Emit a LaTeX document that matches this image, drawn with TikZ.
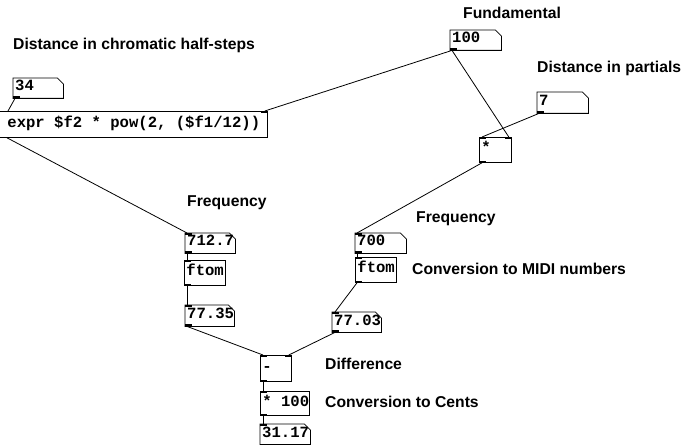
\documentclass[tikz,border=0pt]{standalone}
\usepackage{fontspec}
\setmainfont{Liberation Sans}
\newfontfamily\pdmono{Liberation Mono}
\tikzset{
  boxline/.style={draw=black, line width=0.8pt},
  wire/.style={draw=black, line width=0.8pt},
  pdtext/.style={inner xsep=2pt, inner ysep=0pt, text height=0.68em, text depth=0.12em,
    font=\pdmono\bfseries\fontsize{15.6}{17}\selectfont, anchor=north west,
    execute at begin node={\spaceskip=0.6em\relax}},
  lbl/.style={anchor=west, inner sep=0pt, font=\bfseries\fontsize{15.7}{18}\selectfont}
}
\newcommand\pdnum[6]{%
  \pgfmathsetmacro\pdtw{#4-4}%
  \node[pdtext, minimum height=#5pt] (#1) at (#2,#3) {\makebox[\pdtw pt][l]{#6}};
  \draw[boxline] (#1.north west) -- ([xshift=-6pt]#1.north east) -- ([yshift=-6pt]#1.north east)
     -- (#1.south east) -- (#1.south west) -- cycle;
}
\newcommand\pdobj[6]{%
  \pgfmathsetmacro\pdtw{#4-4}%
  \node[pdtext, boxline, minimum height=#5pt] (#1) at (#2,#3) {\makebox[\pdtw pt][l]{#6}};
}
\newcommand\pdinL[1]{\fill (#1.north west) rectangle ++(7,2);}
\newcommand\pdinR[1]{\fill (#1.north east) rectangle ++(-7,2);}
\newcommand\pdout[1]{\fill (#1.south west) rectangle ++(7,-2);}
\begin{document}
\begin{tikzpicture}[x=1pt,y=-1pt]
\useasboundingbox[fill=white] (0,0) rectangle (682,446);

% labels
\node[lbl] (l1) at (13,45) {Distance in chromatic half-steps};
\node[lbl] (l2) at (463,13) {Fundamental};
\node[lbl] (l3) at (537,68) {Distance in partials};
\node[lbl] (l4) at (187,203) {Frequency};
\node[lbl] (l5) at (416,219) {Frequency};
\node[lbl] (l6) at (412,269) {Conversion to MIDI numbers};
\node[lbl] (l7) at (325,364) {Difference};
\node[lbl] (l8) at (325,402) {Conversion to Cents};

% boxes
\pdnum{n34}{13}{78}{50}{20}{34}
\node[pdtext, boxline, inner xsep=0pt, minimum height=26pt] (expr) at (-1,111)
  {\makebox[268pt][l]{\hspace*{8pt}expr \$f2 * pow(2, (\$f1/12))}};
\pdnum{n100}{450}{30}{51}{20}{100}
\pdnum{n7}{537}{92}{51}{21}{7}
\pdobj{mul}{479}{137}{32}{25}{*}
\pdnum{n712}{185}{233}{50}{20}{712.7}
\pdobj{ftomL}{184}{260}{41}{25}{ftom}
\pdnum{n7735}{185}{305}{49}{21}{77.35}
\pdnum{n700}{355}{233}{51}{20}{700}
\pdobj{ftomR}{355}{257}{41}{25}{ftom}
\pdnum{n7703}{332}{312}{49}{20}{77.03}
\pdobj{minus}{260}{355}{31}{26}{-}
\pdobj{times}{260}{391}{49}{24}{* 100}
\pdnum{n3117}{260}{424}{50}{20}{31.17}

% inlets / outlets
\pdout{n34}\pdinR{expr}
\pdout{n100}\pdout{n7}\pdinL{mul}\pdinR{mul}\pdout{mul}
\pdinL{n712}\pdout{n712}\pdinL{ftomL}\pdout{ftomL}\pdinL{n7735}\pdout{n7735}
\pdinL{n700}\pdout{n700}\pdinL{ftomR}\pdout{ftomR}\pdinL{n7703}\pdout{n7703}
\pdinL{minus}\pdinR{minus}\pdout{minus}\pdinL{times}\pdout{times}\pdinL{n3117}

% wires
\draw[wire] ([xshift=2pt]n34.south west) -- ([xshift=9pt]expr.north west);
\draw[wire] ([xshift=2pt]n100.south west) -- ([xshift=-3pt]expr.north east);
\draw[wire] ([xshift=2pt]n100.south west) -- ([xshift=-3pt]mul.north east);
\draw[wire] ([xshift=2pt]n7.south west) -- ([xshift=3pt]mul.north west);
\draw[wire] ([xshift=3pt]mul.south west) -- ([xshift=2pt]n700.north west);
\draw[wire] ([xshift=8pt]expr.south west) -- ([xshift=2pt]n712.north west);
\draw[wire] ([xshift=2pt]n712.south west) -- ([xshift=3pt]ftomL.north west);
\draw[wire] ([xshift=3pt]ftomL.south west) -- ([xshift=2pt]n7735.north west);
\draw[wire] ([xshift=2pt]n700.south west) -- ([xshift=2pt]ftomR.north west);
\draw[wire] ([xshift=2pt]ftomR.south west) -- ([xshift=3pt]n7703.north west);
\draw[wire] ([xshift=2pt]n7735.south west) -- ([xshift=3pt]minus.north west);
\draw[wire] ([xshift=3pt]n7703.south west) -- ([xshift=-3pt]minus.north east);
\draw[wire] ([xshift=3pt]minus.south west) -- ([xshift=3pt]times.north west);
\draw[wire] ([xshift=3pt]times.south west) -- ([xshift=3pt]n3117.north west);
\end{tikzpicture}
\end{document}
